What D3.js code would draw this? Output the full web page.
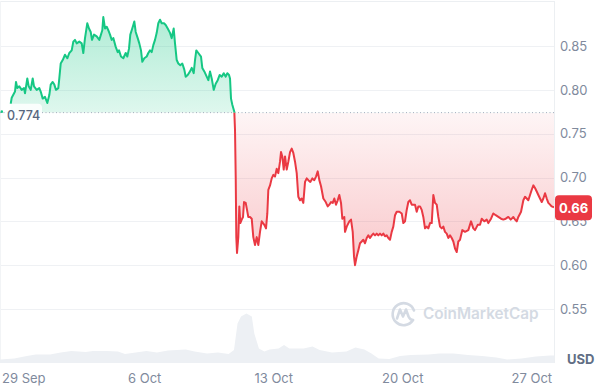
<!DOCTYPE html>
<html>
<head>
<meta charset="utf-8">
<script src="https://cdn.jsdelivr.net/npm/d3@7"></script>
<style>
  html, body { margin: 0; padding: 0; background: #fff; }
  svg { display: block; font-family: Inter, "Noto Sans", sans-serif; }
</style>
</head>
<body>
<div id="chart"></div>
<script>
// data (days counted from 28 Sep 00:00)
const startDay = new Date(2024, 8, 28);
const priceDays = [
  0.757,0.812,0.991,1.045,1.116,1.224,1.354,1.479,1.533,1.658,1.734,1.843,1.951,2.022,2.168,2.309,2.385,2.494,2.618,2.743,
  2.852,2.928,3.036,3.123,3.215,3.340,3.394,3.470,3.579,3.703,3.828,3.937,4.067,4.154,4.246,4.338,4.479,4.609,4.696,4.788,
  4.913,5.005,5.098,5.168,5.277,5.423,5.564,5.727,5.781,5.873,5.966,6.052,6.145,6.237,6.324,6.454,6.562,6.633,6.741,6.866,
  6.996,7.083,7.175,7.246,7.322,7.409,7.463,7.539,7.647,7.734,7.826,7.897,8.005,8.135,8.222,8.315,8.407,8.494,8.586,8.678,
  8.765,8.857,8.949,9.074,9.166,9.275,9.400,9.492,9.600,9.671,9.763,9.850,9.958,10.067,10.175,10.251,10.360,10.485,10.577,10.685,
  10.756,10.826,10.935,11.081,11.152,11.260,11.391,11.478,11.570,11.662,11.771,11.879,11.988,12.096,12.205,12.313,12.422,12.509,12.601,12.655,
  12.709,12.780,12.888,12.926,12.964,12.996,13.034,13.105,13.159,13.213,13.289,13.360,13.414,13.506,13.577,13.647,13.740,13.832,13.918,14.011,
  14.103,14.190,14.282,14.374,14.515,14.607,14.678,14.733,14.825,14.917,15.004,15.096,15.188,15.275,15.367,15.421,15.492,15.568,15.639,15.731,
  15.818,15.910,16.002,16.089,16.181,16.273,16.360,16.452,16.545,16.631,16.724,16.816,16.903,17.011,17.120,17.228,17.320,17.413,17.500,17.592,
  17.717,17.847,17.955,18.042,18.134,18.226,18.313,18.405,18.497,18.584,18.676,18.747,18.855,18.893,18.985,19.126,19.219,19.311,19.381,19.436,
  19.528,19.615,19.707,19.799,19.886,19.978,20.070,20.157,20.250,20.342,20.429,20.521,20.613,20.700,20.792,20.884,20.971,21.063,21.155,21.242,
  21.334,21.426,21.513,21.606,21.698,21.839,21.969,22.056,22.148,22.240,22.327,22.419,22.512,22.598,22.691,22.783,22.870,22.962,23.054,23.141,
  23.233,23.325,23.412,23.505,23.597,23.684,23.776,23.868,23.955,24.047,24.139,24.226,24.318,24.411,24.497,24.590,24.682,24.769,24.861,24.953,
  25.040,25.132,25.257,25.403,25.582,25.729,25.854,25.946,26.092,26.217,26.309,26.450,26.581,26.668,26.814,26.939,27.069,27.210,27.357,27.482,
  27.612,27.753,27.883,28.024,28.116,28.209,28.295,28.442,28.567,28.659,28.751,28.838,28.930,29.022,29.110,29.201,29.293,29.380,29.472,29.565,
  29.652,29.744,29.836,29.923,30.015,30.107,30.230
];
const prices = [
  0.784,0.791,0.798,0.809,0.802,0.804,0.800,0.802,0.796,0.813,0.804,0.800,0.813,0.804,0.800,0.802,0.798,0.790,0.792,0.785,
  0.794,0.806,0.809,0.806,0.800,0.802,0.813,0.830,0.834,0.840,0.836,0.842,0.845,0.855,0.857,0.853,0.855,0.853,0.842,0.859,
  0.876,0.870,0.866,0.857,0.863,0.861,0.857,0.868,0.883,0.870,0.872,0.868,0.863,0.857,0.859,0.849,0.843,0.845,0.838,0.836,
  0.842,0.838,0.847,0.863,0.868,0.874,0.878,0.866,0.859,0.853,0.845,0.832,0.836,0.838,0.842,0.845,0.843,0.851,0.857,0.865,
  0.876,0.880,0.876,0.876,0.874,0.870,0.865,0.859,0.870,0.853,0.834,0.830,0.828,0.830,0.823,0.815,0.817,0.821,0.825,0.819,
  0.834,0.845,0.842,0.838,0.825,0.821,0.815,0.811,0.821,0.813,0.800,0.807,0.811,0.817,0.815,0.819,0.815,0.819,0.817,0.813,
  0.790,0.783,0.775,0.754,0.701,0.632,0.614,0.632,0.667,0.648,0.652,0.655,0.672,0.671,0.663,0.655,0.655,0.653,0.632,0.623,
  0.632,0.623,0.638,0.650,0.646,0.642,0.659,0.686,0.691,0.699,0.703,0.701,0.710,0.705,0.718,0.729,0.724,0.709,0.724,0.709,
  0.718,0.729,0.733,0.728,0.718,0.705,0.678,0.674,0.676,0.671,0.695,0.699,0.697,0.695,0.699,0.697,0.701,0.707,0.697,0.690,
  0.676,0.672,0.667,0.669,0.672,0.671,0.676,0.669,0.674,0.680,0.671,0.653,0.655,0.638,0.644,0.650,0.652,0.638,0.610,0.600,
  0.610,0.617,0.625,0.627,0.629,0.625,0.631,0.634,0.631,0.634,0.636,0.634,0.636,0.634,0.636,0.634,0.636,0.633,0.634,0.631,
  0.629,0.638,0.644,0.657,0.661,0.661,0.659,0.648,0.650,0.663,0.672,0.674,0.669,0.669,0.669,0.661,0.667,0.667,0.663,0.655,
  0.642,0.644,0.642,0.648,0.648,0.680,0.671,0.669,0.655,0.644,0.642,0.644,0.638,0.636,0.631,0.634,0.631,0.627,0.619,0.615,
  0.627,0.629,0.640,0.638,0.640,0.650,0.642,0.640,0.646,0.646,0.653,0.650,0.652,0.648,0.653,0.659,0.657,0.655,0.653,0.652,
  0.653,0.655,0.652,0.655,0.652,0.650,0.655,0.661,0.674,0.678,0.676,0.674,0.680,0.686,0.691,0.688,0.684,0.680,0.676,0.672,
  0.676,0.682,0.676,0.671,0.669,0.667,0.666
];
const volumeDays = [
  0.177,0.953,1.631,2.114,2.890,3.470,4.051,4.441,4.826,5.217,5.982,6.573,6.958,7.539,8.119,8.694,9.286,10.251,10.734,11.407,
  11.998,12.579,12.870,13.062,13.251,13.544,13.837,13.973,14.223,14.516,14.803,15.292,15.584,15.872,16.648,17.130,17.516,18.188,18.970,19.458,
  19.941,20.326,20.717,21.297,21.878,22.458,23.429,24.009,24.785,25.561,26.331,27.107,27.688,28.464,29.240,30.015,30.230
];
const volumes = [
  7,9,14,17,17,21,24,23,22,24,24,23,18,21,24,21,25,27,23,19,
  21,18,26,79,93,99,93,59,29,23,27,29,36,29,29,33,26,21,23,31,
  27,19,9,8,14,16,17,19,19,16,14,11,7,9,13,15,15
];
const yTicks = [0.55, 0.60, 0.65, 0.70, 0.75, 0.80, 0.85];
const xTickDays = [1, 8, 15, 22, 29];
const xTickLabels = ["29 Sep", "6 Oct", "13 Oct", "20 Oct", "27 Oct"];
const basePrice = 0.774;
const lastPriceLabel = "0.66";
const domainDays = [0.177, 30.23];

const width = 600, height = 389;
const plotRight = 554, plotBottom = 363;
const green = "#16c784", red = "#ea3943";

const toDate = d => new Date(startDay.getTime() + d * 864e5);

const priceData = priceDays.map((d, i) => ({ date: toDate(d), value: prices[i] }));
const volumeData = volumeDays.map((d, i) => ({ date: toDate(d), value: volumes[i] }));

const x = d3.scaleTime().domain(domainDays.map(toDate)).range([0, plotRight]);
const y = d3.scaleLinear().domain([0.55, 0.85]).range([309, 46]);
const yVol = d3.scaleLinear().domain([0, 100]).range([plotBottom, 313]);
const yBase = y(basePrice);

const svg = d3.select("#chart")
  .append("svg")
  .attr("width", width)
  .attr("height", height);

const defs = svg.append("defs");

defs.append("clipPath").attr("id", "clipTop")
  .append("rect").attr("x", 0).attr("y", 0).attr("width", plotRight).attr("height", yBase);
defs.append("clipPath").attr("id", "clipBottom")
  .append("rect").attr("x", 0).attr("y", yBase).attr("width", plotRight).attr("height", plotBottom - yBase);

const gGreen = defs.append("linearGradient").attr("id", "gradGreen")
  .attr("gradientUnits", "userSpaceOnUse").attr("x1", 0).attr("x2", 0).attr("y1", 15).attr("y2", yBase);
gGreen.append("stop").attr("offset", 0).attr("stop-color", green).attr("stop-opacity", 0.34);
gGreen.append("stop").attr("offset", 1).attr("stop-color", green).attr("stop-opacity", 0.14);

const gRed = defs.append("linearGradient").attr("id", "gradRed")
  .attr("gradientUnits", "userSpaceOnUse").attr("x1", 0).attr("x2", 0).attr("y1", yBase).attr("y2", 265);
gRed.append("stop").attr("offset", 0).attr("stop-color", red).attr("stop-opacity", 0.05);
gRed.append("stop").attr("offset", 1).attr("stop-color", red).attr("stop-opacity", 0.28);

// grid + frame
svg.append("g")
  .selectAll("line")
  .data(yTicks)
  .enter()
  .append("line")
  .attr("x1", 0).attr("x2", plotRight)
  .attr("y1", d => Math.round(y(d)) + 0.5).attr("y2", d => Math.round(y(d)) + 0.5)
  .attr("stroke", "#eff1f4");

svg.append("line").attr("x1", 0).attr("x2", plotRight).attr("y1", 1.5).attr("y2", 1.5).attr("stroke", "#eceff2");
svg.append("line").attr("x1", plotRight + 0.5).attr("x2", plotRight + 0.5).attr("y1", 1).attr("y2", plotBottom).attr("stroke", "#eceff2");
svg.append("line").attr("x1", 0.5).attr("x2", 0.5).attr("y1", 1).attr("y2", plotBottom).attr("stroke", "#f2f4f6");

// volume
svg.append("path")
  .datum(volumeData)
  .attr("fill", "#edf0f4")
  .attr("d", d3.area().x(d => x(d.date)).y0(plotBottom).y1(d => yVol(d.value)));

// watermark
const wm = svg.append("g").attr("transform", "translate(403.5,313.5)");
wm.append("path")
  .attr("d", "M9.5,6.5 A11,11 0 1 1 10.5,-3")
  .attr("fill", "none").attr("stroke", "#d4dae3").attr("stroke-width", 2.6).attr("stroke-linecap", "round");
wm.append("path")
  .attr("d", "M-6.5,5 L-3.5,-4 L-0.5,3 L2.5,-4 L5,3 Q6.5,6.5 9.5,6.5")
  .attr("fill", "none").attr("stroke", "#d4dae3").attr("stroke-width", 2.6)
  .attr("stroke-linejoin", "round").attr("stroke-linecap", "round");
svg.append("text")
  .attr("x", 423).attr("y", 313.5)
  .attr("dominant-baseline", "central")
  .style("font-size", "15.3px").style("font-weight", 600)
  .attr("fill", "#d4dae3")
  .text("CoinMarketCap");

// price fills
const area = d3.area().x(d => x(d.date)).y0(yBase).y1(d => y(d.value));
svg.append("path").datum(priceData).attr("clip-path", "url(#clipTop)")
  .attr("fill", "url(#gradGreen)").attr("d", area);
svg.append("path").datum(priceData).attr("clip-path", "url(#clipBottom)")
  .attr("fill", "url(#gradRed)").attr("d", area);

// baseline
svg.append("line")
  .attr("x1", 0).attr("x2", plotRight).attr("y1", yBase).attr("y2", yBase)
  .attr("stroke", "#a3acbd").attr("stroke-width", 1).attr("stroke-dasharray", "1,2.5");

// price line
const line = d3.line().x(d => x(d.date)).y(d => y(d.value));
svg.append("path").datum(priceData).attr("clip-path", "url(#clipTop)")
  .attr("fill", "none").attr("stroke", green).attr("stroke-width", 2)
  .attr("stroke-linejoin", "round").attr("d", line);
svg.append("path").datum(priceData).attr("clip-path", "url(#clipBottom)")
  .attr("fill", "none").attr("stroke", red).attr("stroke-width", 2)
  .attr("stroke-linejoin", "round").attr("d", line);

// base price label
svg.append("rect")
  .attr("x", 5).attr("y", yBase - 9).attr("width", 37).attr("height", 17).attr("rx", 4)
  .attr("fill", "#fff").attr("fill-opacity", 0.85);
svg.append("circle").attr("cx", 1.8).attr("cy", yBase - 1).attr("r", 1.3).attr("fill", green);
svg.append("text")
  .attr("x", 7).attr("y", yBase + 3)
  .attr("dominant-baseline", "central")
  .style("font-size", "12.5px").style("font-weight", 500)
  .attr("fill", "#58667e")
  .text(basePrice);

// y axis
const yAxis = svg.append("g")
  .attr("transform", `translate(${plotRight},0)`)
  .call(d3.axisRight(y).tickValues(yTicks).tickFormat(d3.format(".2f")).tickSize(0).tickPadding(6));
yAxis.select(".domain").remove();
yAxis.selectAll("text")
  .attr("fill", "#808a9d")
  .style("font-size", "13px")
  .style("font-family", "Inter, 'Noto Sans', sans-serif");

svg.append("text")
  .attr("x", 567).attr("y", 359)
  .attr("dominant-baseline", "central")
  .style("font-size", "13px").style("font-weight", 700)
  .attr("fill", "#616e85")
  .text("USD");

// x axis
const xAxis = svg.append("g")
  .attr("transform", `translate(0,${plotBottom})`)
  .call(d3.axisBottom(x).tickValues(xTickDays.map(toDate)).tickFormat((d, i) => xTickLabels[i]).tickSize(0).tickPadding(11));
xAxis.select(".domain").remove();
xAxis.selectAll("text")
  .attr("fill", "#808a9d")
  .style("font-size", "13px")
  .style("font-family", "Inter, 'Noto Sans', sans-serif")
  .each(function () {
    const b = this.getBBox();
    const tx = this.parentNode.transform.baseVal.consolidate().matrix.e;
    if (tx + b.x < 2) d3.select(this).attr("x", 2 - tx - b.x);
  });

// last price tag
const lastPrice = prices[prices.length - 1];
svg.append("rect")
  .attr("x", 555).attr("y", y(lastPrice) - 12).attr("width", 37).attr("height", 25).attr("rx", 4)
  .attr("fill", red);
svg.append("text")
  .attr("x", 573.5).attr("y", y(lastPrice) + 0.5)
  .attr("text-anchor", "middle").attr("dominant-baseline", "central")
  .style("font-size", "13px").style("font-weight", 700)
  .attr("fill", "#fff")
  .text(lastPriceLabel);
</script>
</body>
</html>
